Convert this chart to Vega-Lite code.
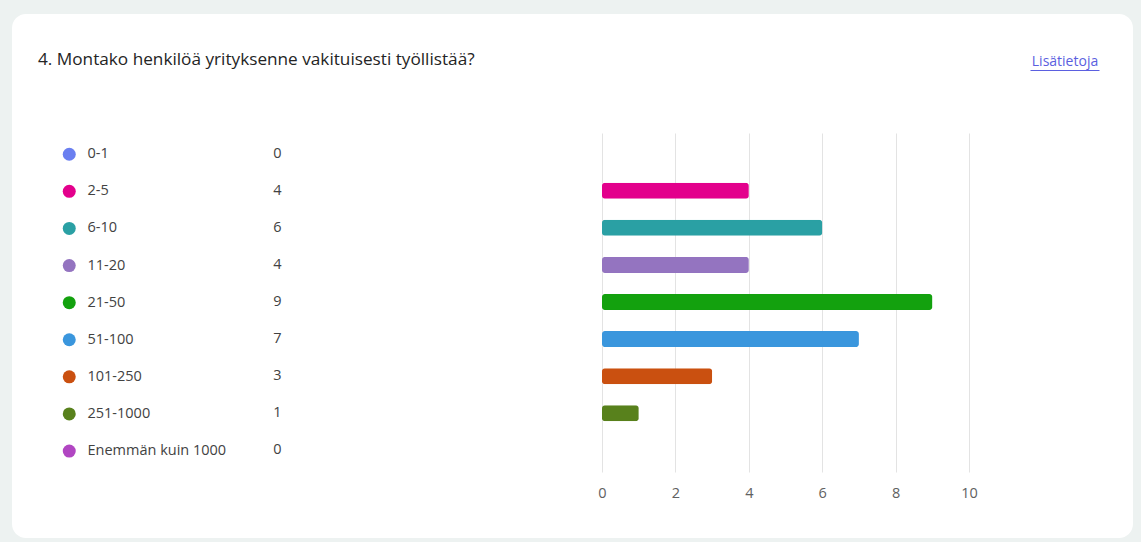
{
  "$schema": "https://vega.github.io/schema/vega-lite/v6.json",
  "width": 1121,
  "height": 524,
  "autosize": {"type": "none"},
  "padding": {"left": 12, "top": 14, "right": 8, "bottom": 4},
  "background": "#edf2f1",
  "config": {
    "view": {"fill": "white", "stroke": null, "cornerRadius": 14},
    "font": "Open Sans"
  },
  "title": {
    "text": "4. Montako henkilöä yrityksenne vakituisesti työllistää?",
    "anchor": "start",
    "frame": "group",
    "offset": 0,
    "baseline": "middle",
    "dx": 26,
    "dy": 63,
    "fontSize": 17.2,
    "fontWeight": "normal",
    "color": "#242424",
    "font": "Open Sans"
  },
  "data": {
    "values": [
      {"category": "0-1", "count": 0},
      {"category": "2-5", "count": 4},
      {"category": "6-10", "count": 6},
      {"category": "11-20", "count": 4},
      {"category": "21-50", "count": 9},
      {"category": "51-100", "count": 7},
      {"category": "101-250", "count": 3},
      {"category": "251-1000", "count": 1},
      {"category": "Enemmän kuin 1000", "count": 0}
    ]
  },
  "transform": [{"calculate": "datum.category + '|' + datum.count", "as": "key"}],
  "layer": [
    {
      "mark": {"type": "tick", "opacity": 0},
      "encoding": {
        "y": {
          "field": "key", "type": "nominal", "sort": null,
          "scale": {"range": [66, 405], "paddingInner": 0, "paddingOuter": 0},
          "axis": null
        },
        "x": {
          "field": "count", "type": "quantitative",
          "scale": {"domain": [0, 10], "range": [590, 957]},
          "axis": {
            "orient": "bottom",
            "values": [0, 2, 4, 6, 8, 10], "grid": true, "gridColor": "#e3e3e3",
            "labels": false, "domain": false, "ticks": false, "title": null
          }
        }
      }
    },
    {
      "mark": {"type": "bar", "size": 16, "cornerRadius": 3, "strokeWidth": 1, "strokeOpacity": 0.4},
      "encoding": {
        "y": {
          "field": "key", "type": "nominal", "sort": null,
          "scale": {"range": [121, 455], "paddingInner": 0, "paddingOuter": 0},
          "axis": {
            "orient": "left", "offset": -265, "labelExpr": "split(datum.value, '|')[1]",
            "ticks": false, "domain": false, "grid": false, "labelPadding": 0,
            "labelAlign": "center", "labelFontSize": 14.5, "labelColor": "#424242",
            "labelFont": "Open Sans", "title": null
          }
        },
        "x": {
          "field": "count", "type": "quantitative",
          "scale": {"domain": [0, 10], "range": [590, 957]},
          "axis": {
            "orient": "bottom",
            "values": [0, 2, 4, 6, 8, 10], "grid": false,
            "domain": false, "ticks": false, "offset": 0, "labelPadding": -45,
            "labelFlush": false, "labelBaseline": "middle",
            "labelFontSize": 14.5, "labelColor": "#616161", "labelFont": "Open Sans", "title": null
          }
        },
        "color": {
          "field": "category", "type": "nominal", "sort": null,
          "scale": {
            "domain": ["0-1", "2-5", "6-10", "11-20", "21-50", "51-100", "101-250", "251-1000", "Enemmän kuin 1000"],
            "range": ["#6a7ff0", "#e3008c", "#2aa0a4", "#9474c0", "#13a10e", "#3a96dd", "#ca5010", "#58811c", "#b146c2"]
          },
          "legend": {
            "orient": "none", "legendX": 50, "legendY": 133, "title": null,
            "symbolType": "circle", "symbolSize": 169, "symbolStrokeWidth": 0, "symbolOpacity": 1,
            "labelFontSize": 14.5, "labelColor": "#424242", "labelFont": "Open Sans",
            "labelOffset": 11, "rowPadding": 22.1, "padding": 0
          }
        },
        "stroke": {
          "field": "category", "type": "nominal", "sort": null,
          "scale": {
            "domain": ["0-1", "2-5", "6-10", "11-20", "21-50", "51-100", "101-250", "251-1000", "Enemmän kuin 1000"],
            "range": ["#6a7ff0", "#e3008c", "#2aa0a4", "#9474c0", "#13a10e", "#3a96dd", "#ca5010", "#58811c", "#b146c2"]
          },
          "legend": null
        }
      }
    },
    {
      "mark": {"type": "tick", "opacity": 0},
      "encoding": {
        "x": {
          "field": "count", "type": "quantitative",
          "scale": {"domain": [0, 10], "range": [1018, 1087]},
          "axis": {
            "orient": "top", "offset": -56, "labels": false, "ticks": false, "grid": false,
            "domain": true, "domainColor": "#5b5fe0", "domainWidth": 1,
            "title": "Lisätietoja", "titleColor": "#5b5fe0", "titleFontSize": 14,
            "titleFontWeight": "normal", "titleFont": "Open Sans", "titlePadding": 2
          }
        }
      }
    }
  ],
  "resolve": {
    "scale": {"x": "independent", "y": "independent"},
    "axis": {"x": "independent", "y": "independent"}
  }
}
